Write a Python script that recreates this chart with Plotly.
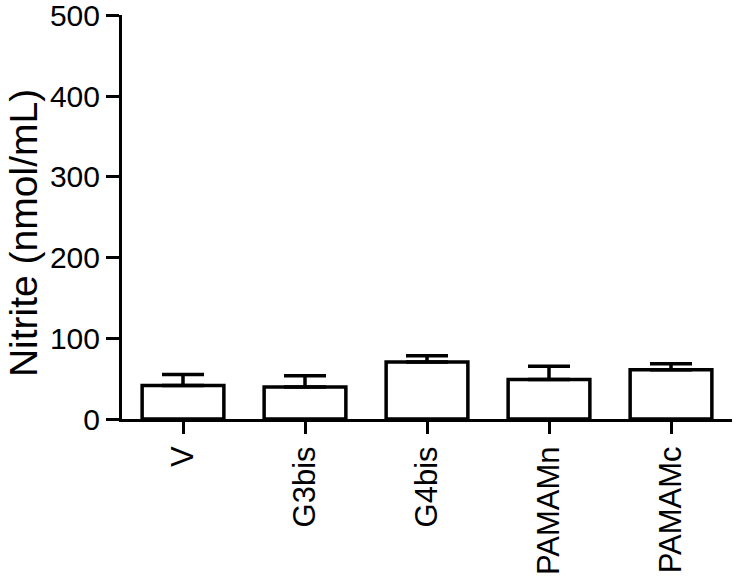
import plotly.graph_objects as go

groups = ["V", "G3bis", "G4bis", "PAMAMn", "PAMAMc"]
nitrite = [41.5, 39.5, 70.5, 49, 61]
sem = [13.5, 14, 8, 16.5, 7.5]
y_ticks = [0, 100, 200, 300, 400, 500]

font = "Liberation Sans, Arial, sans-serif"

fig = go.Figure()
fig.add_trace(go.Bar(
    x=groups,
    y=nitrite,
    width=0.67,
    marker=dict(color="white", line=dict(color="black", width=3.5)),
    error_y=dict(
        type="data",
        symmetric=False,
        array=sem,
        arrayminus=[0] * len(sem),
        color="black",
        thickness=3.5,
        width=21,
    ),
    showlegend=False,
))

fig.update_layout(
    width=737,
    height=580,
    margin=dict(l=122, r=5, t=15, b=161, autoexpand=False),
    plot_bgcolor="white",
    paper_bgcolor="white",
    font=dict(family=font, size=30, color="black"),
    xaxis=dict(
        range=[-0.5, 4.5],
        showline=True,
        linecolor="black",
        linewidth=3,
        ticks="outside",
        ticklen=12,
        tickwidth=3,
        tickcolor="black",
        tickangle=-90,
        showgrid=False,
        tickfont=dict(size=31),
        ticklabeloverflow="allow",
        automargin=False,
    ),
    yaxis=dict(
        range=[0, 500.5],
        tickvals=y_ticks,
        showline=True,
        linecolor="black",
        linewidth=3,
        ticks="outside",
        ticklen=13,
        tickwidth=3,
        tickcolor="black",
        showgrid=False,
        zeroline=False,
        tickfont=dict(size=30),
        ticklabeloverflow="allow",
        automargin=False,
    ),
    annotations=[dict(
        text="Nitrite (nmol/mL)",
        textangle=-90,
        xref="paper",
        yref="paper",
        x=0,
        y=0.459,
        xshift=-98.5,
        xanchor="center",
        yanchor="middle",
        showarrow=False,
        font=dict(size=39),
    )],
)

# drop the browser's default body margin so the figure sits at the page corner
fig.write_html(
    "out.html",
    config={"displayModeBar": False},
    post_script="document.body.style.margin='0';",
)
